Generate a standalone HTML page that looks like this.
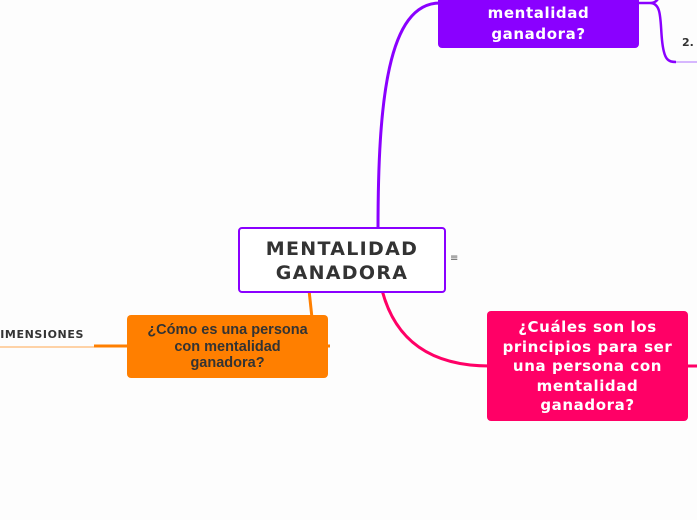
<!DOCTYPE html>
<html><head><meta charset="utf-8"><style>
body{margin:0;width:697px;height:520px;background:#fdfdfd;position:relative;overflow:hidden;font-family:"DejaVu Sans",sans-serif}
.b{position:absolute;box-sizing:border-box;border-radius:4px;text-align:center;font-weight:bold;white-space:nowrap}
svg{position:absolute;left:0;top:0}
</style></head><body>
<svg width="697" height="520">
<path d="M378 230 C 378 100, 388 3, 440 3" fill="none" stroke="#8a00ff" stroke-width="3"/>
<path d="M638 3 L650 3 C 658 3, 660 -4, 660 -8 M650 3 C 662 3, 660 20, 662 40 C 664 60, 668 62, 676 62" fill="none" stroke="#8a00ff" stroke-width="2.5"/>
<line x1="676" y1="62" x2="697" y2="62" stroke="#c9a0ff" stroke-width="1.5"/>
<path d="M382 290 C 395 340, 430 366, 490 366" fill="none" stroke="#ff0066" stroke-width="3"/>
<line x1="686" y1="366" x2="697" y2="366" stroke="#ff0066" stroke-width="3"/>
<line x1="309" y1="290" x2="312" y2="318" stroke="#ff7f00" stroke-width="3"/>
<line x1="94" y1="346" x2="130" y2="346" stroke="#ff7f00" stroke-width="3"/>
<line x1="0" y1="347" x2="94" y2="347" stroke="#ffc48a" stroke-width="1.5"/>
<line x1="326" y1="346" x2="330" y2="346" stroke="#ff7f00" stroke-width="3"/>
</svg>
<div class="b" style="left:438px;top:-20px;width:201px;height:68px;background:#8a00ff;color:#fff;font-size:15px;line-height:21px;padding-top:2px;letter-spacing:0.6px">¿Cómo ya<br>mentalidad<br>ganadora?</div>
<div style="position:absolute;left:682px;top:36px;font-size:11px;font-weight:bold;color:#333">2.</div>
<div class="b" style="left:238px;top:227px;width:208px;height:66px;background:#fff;border:2px solid #8a00ff;color:#333;font-size:19px;line-height:24px;padding-top:8px;letter-spacing:1.3px">MENTALIDAD<br>GANADORA</div>
<div style="position:absolute;left:450px;top:253px;font-size:10px;color:#555">≡</div>
<div class="b" style="left:127px;top:315px;width:201px;height:63px;background:#ff7f00;color:#333;font-family:'Liberation Sans',sans-serif;font-size:14.5px;line-height:16.5px;padding-top:7px">¿Cómo es una persona<br>con mentalidad<br>ganadora?</div>
<div style="position:absolute;right:613px;top:328px;font-size:11px;font-weight:bold;color:#333;white-space:nowrap;letter-spacing:0.6px">DIMENSIONES</div>
<div class="b" style="left:487px;top:311px;width:201px;height:110px;background:#ff0066;color:#fff;font-size:15px;line-height:19.5px;padding-top:7px;letter-spacing:0.6px">¿Cuáles son los<br>principios para ser<br>una persona con<br>mentalidad<br>ganadora?</div>
</body></html>
